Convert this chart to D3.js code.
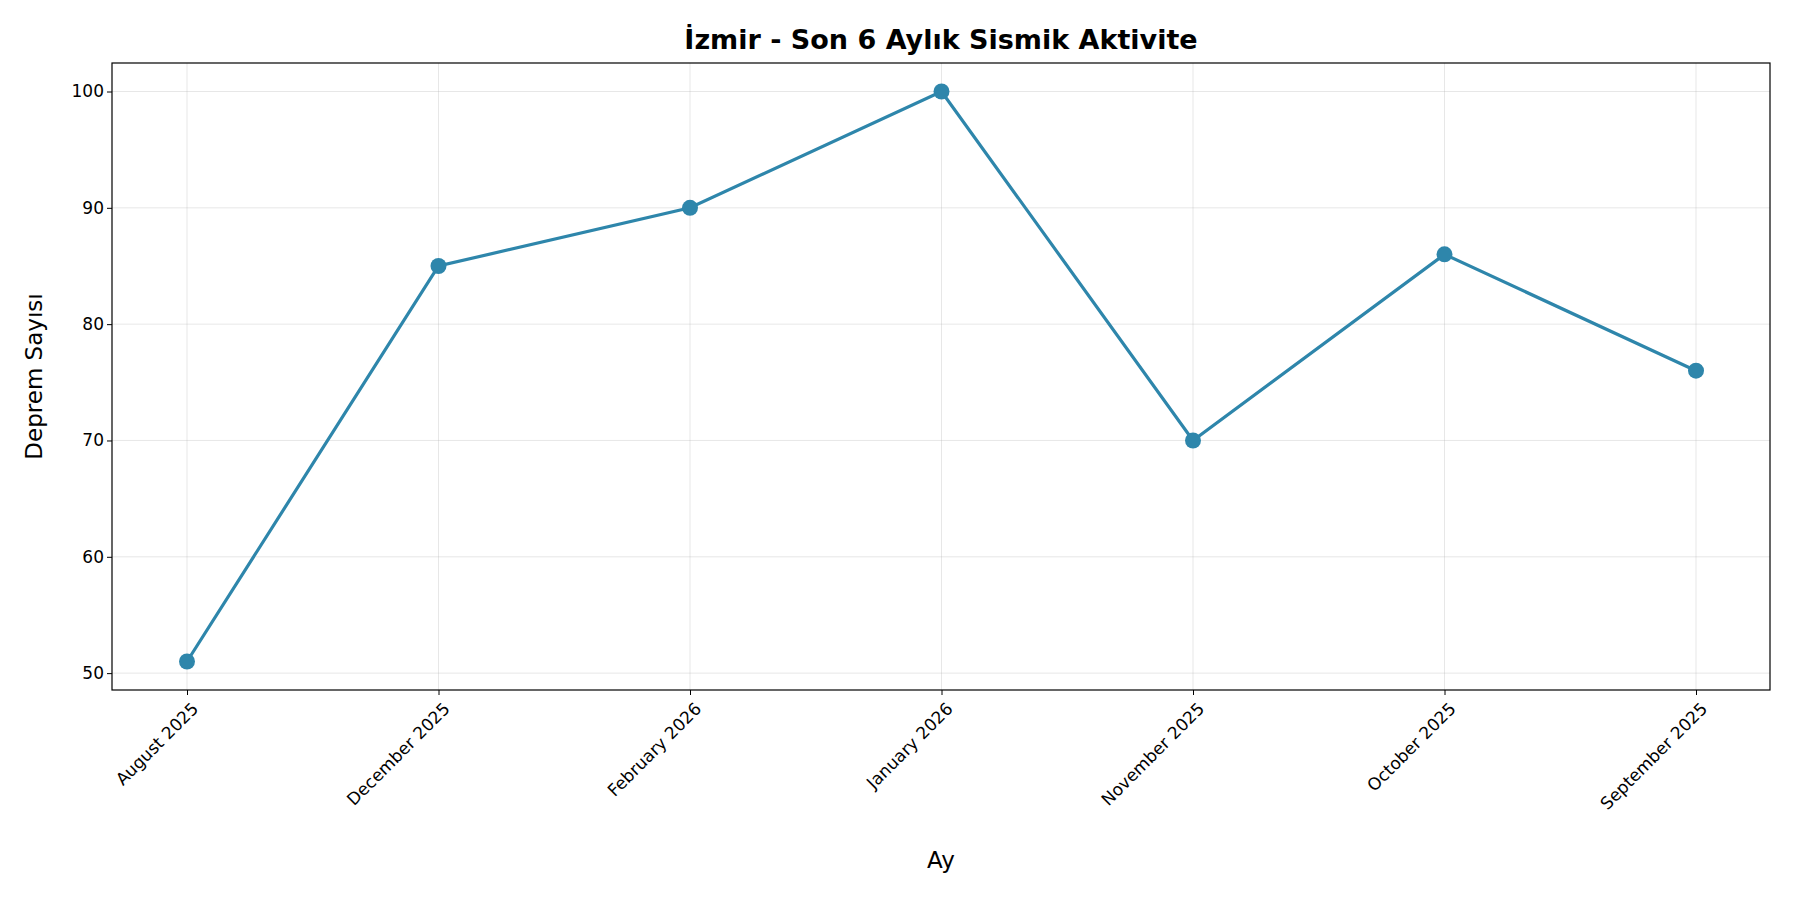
<!DOCTYPE html>
<html><head><meta charset="utf-8">
<script src="https://cdn.jsdelivr.net/npm/d3@7"></script>
<style>body{margin:0;background:#fff}svg,svg text{font-family:"DejaVu Sans",sans-serif}</style>
</head><body>
<svg id="c" width="1800" height="900"></svg>
<script>
const months = ["August 2025","December 2025","February 2026","January 2026","November 2025","October 2025","September 2025"];
const counts = [51,85,90,100,70,86,76];
const yTicks = [50,60,70,80,90,100];

const svg = d3.select("#c");
const L=112,R=1770,T=63,B=690;
const x = d3.scalePoint().domain(months).range([187,1696]);
const y = d3.scaleLinear().domain([48.55,102.45]).range([B,T]);
const col="#2E86AB";
const FF="DejaVu Sans, sans-serif";

const g=svg.append("g");
g.selectAll(".gx").data(months).join("line").attr("x1",d=>x(d)).attr("x2",d=>x(d)).attr("y1",T).attr("y2",B).attr("stroke","#b0b0b0").attr("stroke-opacity",0.3);
g.selectAll(".gy").data(yTicks).join("line").attr("x1",L).attr("x2",R).attr("y1",d=>y(d)).attr("y2",d=>y(d)).attr("stroke","#b0b0b0").attr("stroke-opacity",0.3);

const xa=svg.append("g").attr("transform",`translate(0,${B})`).attr("font-family",FF).call(d3.axisBottom(x).tickSize(5).tickSizeOuter(0));
xa.attr("font-family",FF);
xa.select(".domain").remove();
xa.selectAll("text").attr("font-size",17).attr("text-anchor","end").attr("transform","translate(2,10) rotate(-45)").attr("dy","0.35em").attr("dx","0");
const ya=svg.append("g").attr("transform",`translate(${L},0)`).call(d3.axisLeft(y).tickValues(yTicks).tickSize(5));
ya.attr("font-family",FF);
ya.select(".domain").remove();
ya.selectAll("text").attr("font-size",17);
svg.append("rect").attr("x",L).attr("y",T).attr("width",R-L).attr("height",B-T).attr("fill","none").attr("stroke","#000").attr("stroke-width",1.2);

svg.append("path").datum(months.map((m,i)=>[m,counts[i]])).attr("fill","none").attr("stroke",col).attr("stroke-width",3.2)
  .attr("d",d3.line().x(d=>x(d[0])).y(d=>y(d[1])));
svg.selectAll(".pt").data(months.map((m,i)=>[m,counts[i]])).join("circle").attr("cx",d=>x(d[0])).attr("cy",d=>y(d[1])).attr("r",8).attr("fill",col);

svg.append("text").attr("x",(L+R)/2).attr("y",49).attr("text-anchor","middle").attr("font-size",27).attr("font-weight","bold").text("İzmir - Son 6 Aylık Sismik Aktivite");
svg.append("text").attr("x",(L+R)/2).attr("y",868).attr("text-anchor","middle").attr("font-size",23).text("Ay");
svg.append("text").attr("transform",`translate(42,${(T+B)/2}) rotate(-90)`).attr("text-anchor","middle").attr("font-size",23).text("Deprem Sayısı");
</script></body></html>
